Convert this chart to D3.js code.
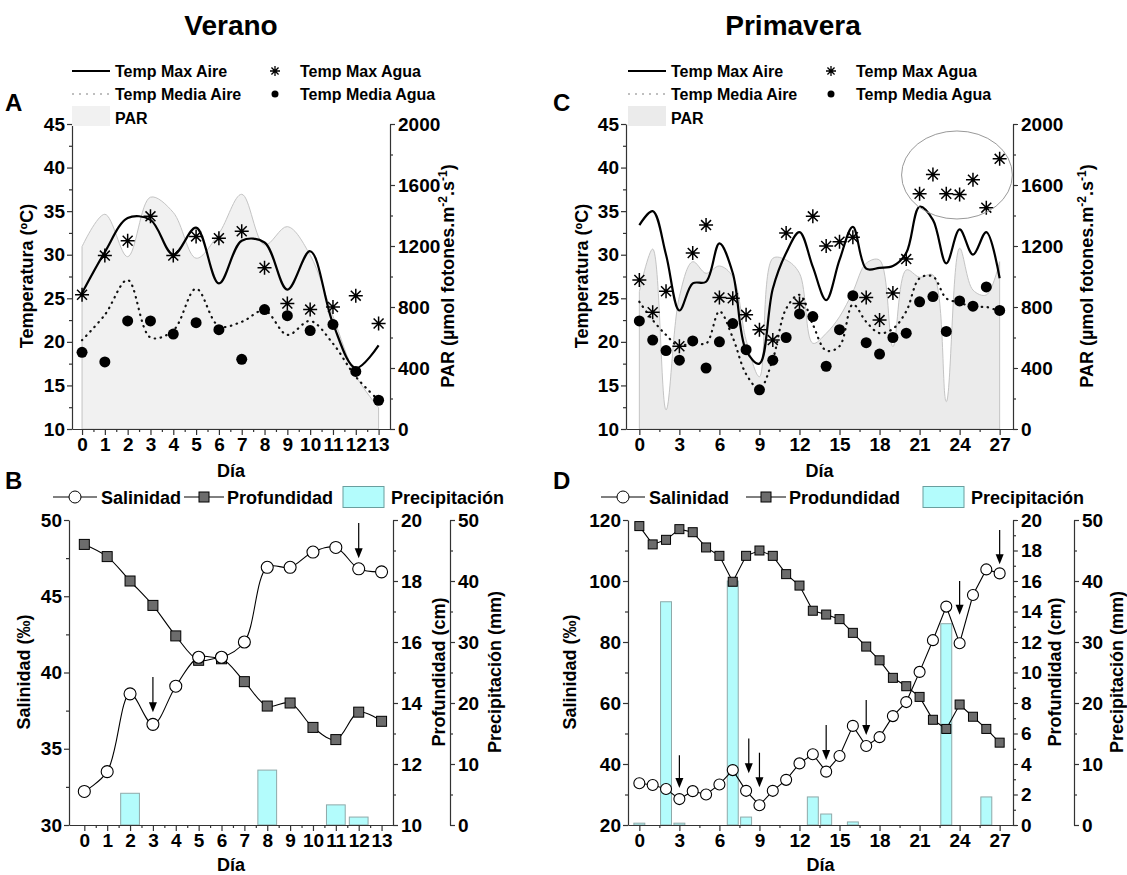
<!DOCTYPE html>
<html>
<head>
<meta charset="utf-8">
<script src="https://cdn.jsdelivr.net/npm/d3@7/dist/d3.min.js"></script>
<style>
  body { margin: 0; background: #fff; }
  svg text { font-family: Arial, "Liberation Sans", sans-serif; font-weight: bold; fill: #000; }
</style>
</head>
<body>
<div id="chart"></div>
<script>
// ---- Verano (paneles A y B) ----
var diasVerano = [0,1,2,3,4,5,6,7,8,9,10,11,12,13];
var parVerano = [1196,1408,1130,1520,1420,1120,1283,1539,1207,1327,1140,740,350,140];
var tMaxAireVerano = [25.6,30.3,34.2,34.0,30.0,33.1,26.7,31.6,31.4,26.0,30.4,22.1,17.0,19.6];
var tMediaAireVerano = [20.2,23.1,27.1,20.5,21.3,26.1,21.8,22.3,23.6,20.8,22.4,19.8,16.0,13.3];
var tMaxAguaVerano = [25.4,29.9,31.6,34.4,29.9,32.1,31.9,32.7,28.5,24.4,23.7,24.0,25.3,22.1];
var tMediaAguaVerano = [18.8,17.7,22.4,22.4,20.9,22.2,21.4,18.0,23.7,23.0,21.3,22.0,16.6,13.3];
var salVerano = [32.2,33.5,38.6,36.6,39.1,41.0,41.0,42.0,46.9,46.9,47.9,48.2,46.8,46.6];
var profVerano = [19.2,18.8,18.0,17.2,16.2,15.4,15.45,14.7,13.9,14.0,13.2,12.8,13.7,13.4];
var precVerano = [0,0,5.2,0,0,0,0,0,9.0,0,0,3.3,1.3,0];
var flechasVerano = [[3,39.7,37.4],[12,49.8,47.5]]; // [dia, desde, hasta] en salinidad

// ---- Primavera (paneles C y D) ----
var diasPrimavera = [0,1,2,3,4,5,6,7,8,9,10,11,12,13,14,15,16,17,18,19,20,21,22,23,24,25,26,27];
var parPrimavera = [900,1180,125,868,1097,1021,1069,999,584,343,1119,1108,1021,562,627,736,900,1087,1108,540,1043,995,1010,179,1185,911,879,1097];
var tMaxAirePrimavera = [33.4,35.0,30.0,23.6,26.7,26.9,31.3,27.9,19.0,17.5,26.1,30.2,32.6,28.6,24.8,29.4,33.2,28.4,28.5,28.7,30.2,35.5,34.0,29.0,32.9,30.0,32.6,27.3];
var tMediaAirePrimavera = [24.6,22.5,20.8,19.5,20.0,19.8,23.5,20.5,16.3,14.6,18.0,23.8,25.4,22.0,19.0,19.5,24.3,22.3,21.0,21.5,23.5,27.3,27.5,25.0,24.5,24.0,24.0,23.5];
var tMaxAguaPrimavera = [27.1,23.4,25.8,19.5,30.2,33.4,25.1,25.0,23.1,21.4,20.2,32.5,24.4,34.4,31.0,31.5,32.0,25.1,22.5,25.6,29.5,37.0,39.2,37.0,36.9,38.6,35.4,41.0];
var tMediaAguaPrimavera = [22.4,20.2,19.0,17.9,20.1,17.0,20.0,22.1,19.1,14.5,17.9,20.5,23.2,22.9,17.2,21.4,25.3,19.9,18.6,20.5,21.0,24.6,25.2,21.2,24.7,24.1,26.3,23.6];
var salPrimavera = [33.7,33.1,31.8,28.5,31.1,30.0,33.3,38.0,31.2,26.5,31.2,34.8,40.2,43.2,37.5,42.6,52.5,45.9,48.8,55.7,60.3,70.2,80.6,91.6,79.6,95.4,103.8,102.5];
var profPrimavera = [19.6,18.4,18.7,19.4,19.2,18.2,17.65,15.95,17.65,18.0,17.65,16.45,15.7,14.05,13.8,13.5,12.6,11.7,10.8,9.65,9.1,8.4,6.9,6.3,7.9,7.1,6.3,5.4];
var precPrimavera = [0.3,0,36.6,0.3,0,0,0,40,1.3,0,0,0,0,4.6,1.8,0,0.5,0,0,0,0,0,0,33.0,0,0,4.6,0];
var flechasPrimavera = [[3,42.9,32.1],[8.2,48.4,37.0],[9,43.7,32.4],[14,52.8,41.3],[17,61,49.5],[24,100,88.9],[27,116.7,105.5]];
var elipsePrimavera = [23.8, 39.15, 4.15, 5.05]; // dia, temp, radio dias, radio temp

// ---- ticks ----
var ticksTemp = [10,15,20,25,30,35,40,45];
var ticksPar = [0,400,800,1200,1600,2000];
var ticksSalVerano = [30,35,40,45,50];
var ticksProfVerano = [10,12,14,16,18,20];
var ticksSalPrimavera = [20,40,60,80,100,120];
var ticksProfPrimavera = [0,2,4,6,8,10,12,14,16,18,20];
var ticksPrec = [0,10,20,30,40,50];
var ticksDiaVerano = [0,1,2,3,4,5,6,7,8,9,10,11,12,13];
var ticksDiaPrimavera = [0,3,6,9,12,15,18,21,24,27];

function init(){
    var svg = d3.select("#chart").append("svg").attr("width", 1127).attr("height", 875);

    function texto(x, y, s, size, anchor){
        return svg.append("text").attr("x", x).attr("y", y).attr("font-size", size)
            .attr("text-anchor", anchor || "start").text(s);
    }
    function textoV(cx, cy, size){ // texto vertical centrado en (cx, cy)
        return svg.append("text")
            .attr("transform", "translate(" + (cx + size * 0.36) + "," + cy + ") rotate(-90)")
            .attr("font-size", size).attr("text-anchor", "middle");
    }
    function menores(ticks){ // ticks menores a mitad de camino
        var m = [];
        for (var i = 0; i < ticks.length - 1; i++) m.push((ticks[i] + ticks[i+1]) / 2);
        return m;
    }
    function eje(axisFn, scale, major, tr, size, pad){
        var g = svg.append("g").attr("transform", tr);
        g.append("g").call(axisFn(scale).tickValues(menores(major)).tickSize(3).tickSizeOuter(0).tickFormat(""))
            .select(".domain").remove();
        g.append("g").call(axisFn(scale).tickValues(major).tickSize(size).tickSizeOuter(0).tickPadding(pad).tickFormat(d3.format("d")));
        g.selectAll("line, .domain").attr("stroke", "#333").attr("stroke-width", 1.2);
        g.selectAll("text").attr("font-size", 19).attr("fill", "#000");
        return g;
    }
    function estrella(r){
        var a = r * 0.71;
        return "M" + (-r) + ",0H" + r + "M0," + (-r) + "V" + r +
            "M" + (-a) + "," + (-a) + "L" + a + "," + a + "M" + (-a) + "," + a + "L" + a + "," + (-a);
    }

    // ---------- panel de temperatura (A, C) ----------
    function panelTemp(c){
        var x = c.x, yT = c.yT, yP = c.yP;
        var area = d3.area().x(function(d){ return x(d[0]); })
            .y0(yP(0)).y1(function(d){ return yP(d[1]); }).curve(d3.curveCatmullRom);
        svg.append("path").datum(d3.zip(c.dias, c.par)).attr("d", area)
            .attr("fill", c.parFill).attr("stroke", "#c4c4c4").attr("stroke-width", 1);

        var linea = d3.line().x(function(d){ return x(d[0]); }).y(function(d){ return yT(d[1]); })
            .curve(d3.curveCatmullRom);
        svg.append("path").datum(d3.zip(c.dias, c.tMediaAire)).attr("d", linea)
            .attr("fill", "none").attr("stroke", "#111").attr("stroke-width", 2.2)
            .attr("stroke-dasharray", "0.5,5.5").attr("stroke-linecap", "round");
        svg.append("path").datum(d3.zip(c.dias, c.tMaxAire)).attr("d", linea)
            .attr("fill", "none").attr("stroke", "#000").attr("stroke-width", 2.2);

        svg.selectAll(null).data(d3.zip(c.dias, c.tMaxAgua)).enter().append("path")
            .attr("transform", function(d){ return "translate(" + x(d[0]) + "," + yT(d[1]) + ")"; })
            .attr("d", estrella(7)).attr("stroke", "#000").attr("stroke-width", 1.5).attr("fill", "none");
        svg.selectAll(null).data(d3.zip(c.dias, c.tMediaAgua)).enter().append("circle")
            .attr("cx", function(d){ return x(d[0]); }).attr("cy", function(d){ return yT(d[1]); })
            .attr("r", 5.5).attr("fill", "#000");

        var r = x.range();
        eje(d3.axisBottom, x, c.ticksDia, "translate(0," + yT.range()[0] + ")", 6, 3);
        eje(d3.axisLeft, yT, ticksTemp, "translate(" + r[0] + ",0)", 5, 2);
        eje(d3.axisRight, yP, ticksPar, "translate(" + r[1] + ",0)", 5, 3);

        textoV(c.tituloIzq, 276, 18).text("Temperatura (ºC)");
        var t = textoV(c.tituloDer, 276, 18);
        t.append("tspan").text("PAR (µmol fotones.m");
        t.append("tspan").attr("font-size", 12).attr("dy", -7).text("-2");
        t.append("tspan").attr("dy", 7).text(".s");
        t.append("tspan").attr("font-size", 12).attr("dy", -7).text("-1");
        t.append("tspan").attr("dy", 7).text(")");
        texto((r[0] + r[1]) / 2, 477, "Día", 18, "middle");

        // leyenda
        var lx = c.leyenda;
        svg.append("line").attr("x1", lx).attr("x2", lx + 38).attr("y1", 71).attr("y2", 71)
            .attr("stroke", "#000").attr("stroke-width", 2);
        texto(lx + 43, 77, "Temp Max Aire", 16);
        svg.append("path").attr("transform", "translate(" + (lx + 203) + ",71)")
            .attr("d", estrella(5)).attr("stroke", "#000").attr("stroke-width", 1.3);
        texto(lx + 228, 77, "Temp Max Agua", 16);
        svg.append("line").attr("x1", lx).attr("x2", lx + 38).attr("y1", 94).attr("y2", 94)
            .attr("stroke", "#aaa").attr("stroke-width", 1.5).attr("stroke-dasharray", "2,5");
        texto(lx + 43, 100, "Temp Media Aire", 16);
        svg.append("circle").attr("cx", lx + 203).attr("cy", 94).attr("r", 3.5).attr("fill", "#000");
        texto(lx + 228, 100, "Temp Media Agua", 16);
        svg.append("rect").attr("x", lx).attr("y", 106).attr("width", 38).attr("height", 20)
            .attr("fill", c.parFill);
        texto(lx + 43, 124, "PAR", 16);
    }

    // ---------- panel de salinidad (B, D) ----------
    function panelSal(c){
        var x = c.x, yS = c.yS, yPr = c.yPr, yPc = c.yPc;
        var hw = 0.41;
        svg.selectAll(null).data(d3.zip(c.dias, c.prec).filter(function(d){ return d[1] > 0; }))
            .enter().append("rect")
            .attr("x", function(d){ return x(d[0] - hw); })
            .attr("width", function(d){ return x(d[0] + hw) - x(d[0] - hw); })
            .attr("y", function(d){ return yPc(d[1]); })
            .attr("height", function(d){ return yPc(0) - yPc(d[1]); })
            .attr("fill", "#b3fcfc").attr("stroke", "#8fa9a9").attr("stroke-width", 1);

        var lineaS = d3.line().x(function(d){ return x(d[0]); }).y(function(d){ return yS(d[1]); }).curve(c.curva);
        var lineaP = d3.line().x(function(d){ return x(d[0]); }).y(function(d){ return yPr(d[1]); }).curve(c.curva);
        svg.append("path").datum(d3.zip(c.dias, c.prof)).attr("d", lineaP)
            .attr("fill", "none").attr("stroke", "#000").attr("stroke-width", 1.1);
        svg.append("path").datum(d3.zip(c.dias, c.sal)).attr("d", lineaS)
            .attr("fill", "none").attr("stroke", "#000").attr("stroke-width", 1.1);
        var lado = c.lado;
        svg.selectAll(null).data(d3.zip(c.dias, c.prof)).enter().append("rect")
            .attr("x", function(d){ return x(d[0]) - lado / 2; })
            .attr("y", function(d){ return yPr(d[1]) - lado / 2; })
            .attr("width", lado).attr("height", lado)
            .attr("fill", "#6c6c6c").attr("stroke", "#000").attr("stroke-width", 1);
        svg.selectAll(null).data(d3.zip(c.dias, c.sal)).enter().append("circle")
            .attr("cx", function(d){ return x(d[0]); }).attr("cy", function(d){ return yS(d[1]); })
            .attr("r", c.radio).attr("fill", "#fff").attr("stroke", "#000").attr("stroke-width", 1.1);

        // flechas
        c.flechas.forEach(function(f){
            var fx = x(f[0]), y1 = yS(f[1]), y2 = yS(f[2]);
            svg.append("line").attr("x1", fx).attr("x2", fx).attr("y1", y1).attr("y2", y2 - 8)
                .attr("stroke", "#000").attr("stroke-width", 1.2);
            svg.append("path").attr("d", "M" + (fx - 4) + "," + (y2 - 10) + "L" + (fx + 4) + "," + (y2 - 10) + "L" + fx + "," + y2 + "Z")
                .attr("fill", "#000");
        });

        var r = x.range();
        eje(d3.axisBottom, x, c.ticksDia, "translate(0," + yS.range()[0] + ")", 6, 3);
        eje(d3.axisLeft, yS, c.ticksSal, "translate(" + r[0] + ",0)", 5, 2);
        eje(d3.axisRight, yPr, c.ticksProf, "translate(" + r[1] + ",0)", 5, 3);
        eje(d3.axisRight, yPc, ticksPrec, "translate(" + c.ejePrec + ",0)", 5, 3);

        textoV(c.tituloIzq, 672, 18).text("Salinidad (‰)");
        textoV(c.tituloProf, 672, 18).text("Profundidad (cm)");
        textoV(c.tituloPrec, 672, 18).text("Precipitación (mm)");
        texto((r[0] + r[1]) / 2, 871, "Día", 18, "middle");

        // leyenda
        var L = c.leyenda;
        svg.append("line").attr("x1", L[0]).attr("x2", L[0] + 44).attr("y1", 497).attr("y2", 497).attr("stroke", "#000");
        svg.append("circle").attr("cx", L[0] + 22).attr("cy", 497).attr("r", 6).attr("fill", "#fff").attr("stroke", "#000");
        texto(L[0] + 48, 503.5, "Salinidad", 18);
        svg.append("line").attr("x1", L[1]).attr("x2", L[1] + 40).attr("y1", 497).attr("y2", 497).attr("stroke", "#000");
        svg.append("rect").attr("x", L[1] + 15).attr("y", 492).attr("width", 10).attr("height", 10)
            .attr("fill", "#6c6c6c").attr("stroke", "#000");
        texto(L[1] + 43, 503.5, c.nombreProf, 18);
        svg.append("rect").attr("x", L[2]).attr("y", 486.5).attr("width", 41).attr("height", 21)
            .attr("fill", "#b3fcfc").attr("stroke", "#6a9e9e");
        texto(L[2] + 48, 503.5, "Precipitación", 18);
    }

    // ----- A -----
    var xA = d3.scaleLinear().domain([-0.44, 13.5]).range([72, 390]);
    var yTemp = d3.scaleLinear().domain([10, 45]).range([429, 124]);
    var yPar = d3.scaleLinear().domain([0, 2000]).range([429, 124]);
    panelTemp({x: xA, yT: yTemp, yP: yPar, dias: diasVerano, par: parVerano,
        tMaxAire: tMaxAireVerano, tMediaAire: tMediaAireVerano, tMaxAgua: tMaxAguaVerano, tMediaAgua: tMediaAguaVerano,
        parFill: "#f1f1f1", ticksDia: ticksDiaVerano, tituloIzq: 27, tituloDer: 448, leyenda: 72});

    // ----- C -----
    var xC = d3.scaleLinear().domain([-1, 28]).range([626, 1013]);
    panelTemp({x: xC, yT: yTemp, yP: yPar, dias: diasPrimavera, par: parPrimavera,
        tMaxAire: tMaxAirePrimavera, tMediaAire: tMediaAirePrimavera, tMaxAgua: tMaxAguaPrimavera, tMediaAgua: tMediaAguaPrimavera,
        parFill: "#ebebeb", ticksDia: ticksDiaPrimavera, tituloIzq: 582, tituloDer: 1087, leyenda: 628});
    var e = elipsePrimavera;
    svg.append("ellipse").attr("cx", xC(e[0])).attr("cy", yTemp(e[1]))
        .attr("rx", xC(e[0] + e[2]) - xC(e[0])).attr("ry", yTemp(e[1] - e[3]) - yTemp(e[1]))
        .attr("fill", "none").attr("stroke", "#999").attr("stroke-width", 1);

    // ----- B -----
    var xB = d3.scaleLinear().domain([-0.67, 13.5]).range([69, 393]);
    panelSal({x: xB, yS: d3.scaleLinear().domain([30, 50]).range([825, 520]),
        yPr: d3.scaleLinear().domain([10, 20]).range([825, 520]),
        yPc: d3.scaleLinear().domain([0, 50]).range([825, 520]),
        dias: diasVerano, sal: salVerano, prof: profVerano, prec: precVerano, flechas: flechasVerano,
        curva: d3.curveCatmullRom, lado: 10, radio: 6,
        ticksDia: ticksDiaVerano, ticksSal: ticksSalVerano, ticksProf: ticksProfVerano,
        ejePrec: 450, tituloIzq: 24, tituloProf: 439, tituloPrec: 495,
        leyenda: [53, 184, 343], nombreProf: "Profundidad"});

    // ----- D -----
    var xD = d3.scaleLinear().domain([-0.85, 28]).range([628, 1013]);
    panelSal({x: xD, yS: d3.scaleLinear().domain([20, 120]).range([825, 520]),
        yPr: d3.scaleLinear().domain([0, 20]).range([825, 520]),
        yPc: d3.scaleLinear().domain([0, 50]).range([825, 520]),
        dias: diasPrimavera, sal: salPrimavera, prof: profPrimavera, prec: precPrimavera, flechas: flechasPrimavera,
        curva: d3.curveLinear, lado: 9, radio: 5.5,
        ticksDia: ticksDiaPrimavera, ticksSal: ticksSalPrimavera, ticksProf: ticksProfPrimavera,
        ejePrec: 1074, tituloIzq: 570, tituloProf: 1055, tituloPrec: 1117,
        leyenda: [601, 746, 923], nombreProf: "Produndidad"});

    // titulos y letras
    texto(231, 35, "Verano", 28, "middle");
    texto(793, 35, "Primavera", 28, "middle");
    texto(5, 111, "A", 24);
    texto(5, 489, "B", 24);
    texto(553, 111, "C", 24);
    texto(553, 489, "D", 24);
}
window.onload = init;
</script>
</body>
</html>
